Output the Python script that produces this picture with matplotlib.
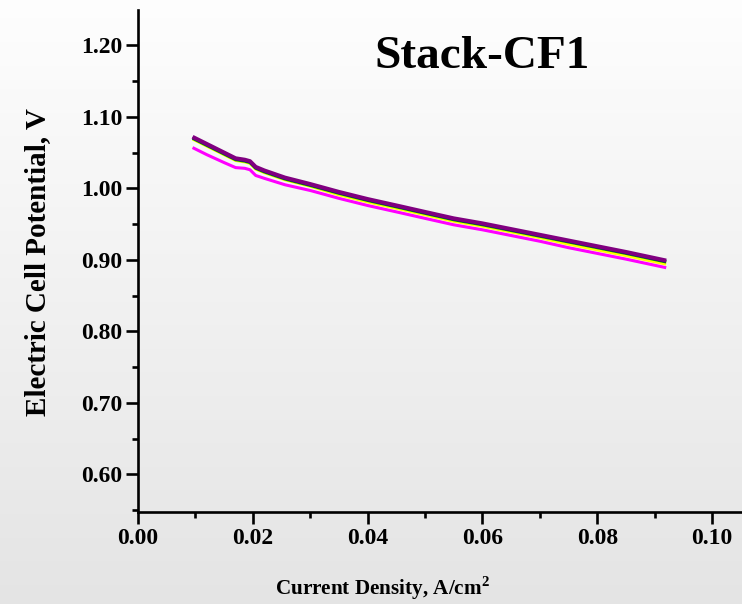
import numpy as np
import matplotlib
matplotlib.use("Agg")
import matplotlib.pyplot as plt
from matplotlib.ticker import MultipleLocator, FormatStrFormatter

# ---- data ----
current_density = [0.0095, 0.012, 0.015, 0.017, 0.0186, 0.0195, 0.0205, 0.022, 0.0256, 0.030,
                   0.035, 0.040, 0.0456, 0.050, 0.055, 0.060, 0.065, 0.070, 0.075, 0.080, 0.085, 0.092]
v_purple = [1.072, 1.062, 1.050, 1.042, 1.040, 1.038, 1.030, 1.025, 1.015, 1.006,
            0.995, 0.985, 0.975, 0.967, 0.958, 0.951, 0.943, 0.935, 0.927, 0.919, 0.911, 0.899]
v_navy = [1.071, 1.061, 1.049, 1.041, 1.039, 1.037, 1.029, 1.024, 1.014, 1.005,
          0.994, 0.984, 0.974, 0.966, 0.957, 0.950, 0.942, 0.934, 0.926, 0.918, 0.910, 0.898]
v_green = [1.070, 1.060, 1.048, 1.040, 1.038, 1.036, 1.028, 1.023, 1.013, 1.004,
           0.993, 0.983, 0.973, 0.965, 0.956, 0.949, 0.941, 0.933, 0.925, 0.917, 0.909, 0.897]
v_yellow = [1.069, 1.059, 1.047, 1.039, 1.037, 1.035, 1.027, 1.022, 1.012, 1.003,
            0.991, 0.981, 0.971, 0.963, 0.954, 0.947, 0.939, 0.931, 0.922, 0.914, 0.906, 0.894]
v_magenta = [1.057, 1.047, 1.036, 1.029, 1.028, 1.026, 1.018, 1.014, 1.005, 0.997,
             0.986, 0.976, 0.966, 0.958, 0.949, 0.942, 0.934, 0.926, 0.917, 0.909, 0.901, 0.889]

x_ticks = [0.00, 0.02, 0.04, 0.06, 0.08, 0.10]
y_ticks = [0.60, 0.70, 0.80, 0.90, 1.00, 1.10, 1.20]
title = "Stack-CF1"

plt.rcParams['font.family'] = ['Liberation Serif', 'DejaVu Serif']
plt.rcParams['font.weight'] = 'bold'
plt.rcParams['mathtext.fontset'] = 'custom'
plt.rcParams['mathtext.rm'] = 'Liberation Serif:bold'
plt.rcParams['mathtext.bf'] = 'Liberation Serif:bold'

fig = plt.figure(figsize=(7.42, 6.04), dpi=100)

# background gradient
bg = fig.add_axes([0, 0, 1, 1], zorder=-10)
grad = np.linspace(0, 1, 256).reshape(-1, 1)
top_c = np.array([0.995, 0.995, 0.995])
bot_c = np.array([0.895, 0.895, 0.895])
img = top_c[None, None, :] * (1 - grad[:, :, None]) + bot_c[None, None, :] * grad[:, :, None]
bg.imshow(img, aspect='auto', extent=[0, 1, 0, 1])
bg.axis('off')

ax = fig.add_axes([0.186, 0.153, 0.814, 0.830])
ax.patch.set_alpha(0)

series = [(v_magenta, '#ff00ff', 2.2), (v_yellow, '#ffff00', 2.2), (v_green, '#00a000', 2.2),
          (v_navy, '#000080', 2.2), (v_purple, '#800080', 2.9)]
for vals, col, lw in series:
    ax.plot(current_density, vals, color=col, lw=lw, solid_capstyle='butt',
            solid_joinstyle='round')

ax.set_xlim(0, 0.1052)
ax.set_ylim(0.548, 1.249)
ax.set_xticks(x_ticks)
ax.set_yticks(y_ticks)
ax.xaxis.set_major_formatter(FormatStrFormatter('%.2f'))
ax.yaxis.set_major_formatter(FormatStrFormatter('%.2f'))
ax.xaxis.set_minor_locator(MultipleLocator(0.01))
ax.yaxis.set_minor_locator(MultipleLocator(0.05))

for s in ['top', 'right']:
    ax.spines[s].set_visible(False)
for s in ['left', 'bottom']:
    ax.spines[s].set_linewidth(1.9)

ax.tick_params(which='major', direction='out', length=8.5, width=1.9, labelsize=17, pad=3)
ax.tick_params(which='minor', direction='out', length=4.5, width=1.9)
for lab in ax.get_xticklabels() + ax.get_yticklabels():
    lab.set_fontweight('bold')

fig.text(0.515, 0.016, r"Current Density, A/cm$^{2}$", ha='center', va='baseline',
         fontsize=15.2, fontweight='bold')
fig.text(0.05, 0.566, "Electric Cell Potential, V", ha='center', va='center', rotation=90,
         fontsize=21, fontweight='bold')
fig.text(0.65, 0.887, title, ha='center', va='baseline', fontsize=34, fontweight='bold')

fig.savefig("out.png", dpi=100)
